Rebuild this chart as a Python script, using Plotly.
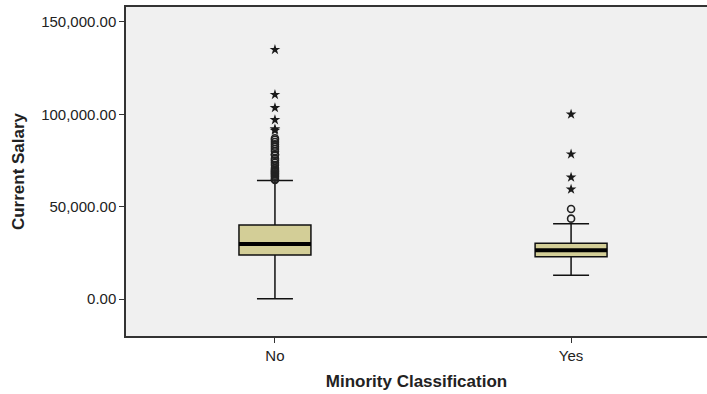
import plotly.graph_objects as go

# Minority Classification boxplot of Current Salary
groups = ["No", "Yes"]
q1 = [23850, 22900]
medians = [29800, 26400]
q3 = [40100, 30150]
lower_whisker = [200, 12850]
upper_whisker = [64100, 40800]

# extreme values (stars) and outliers (circles) per group
no_circles = [64500, 65000, 66000, 66750, 67500, 68125, 68750, 69250, 70000, 70875,
              72500, 73750, 75000, 76000, 78125, 78250, 80000, 81250, 82500, 83750,
              85000, 86250, 87000]
no_stars = [91250, 92000, 97000, 103500, 110625, 135000]
yes_circles = [43500, 48750]
yes_stars = [59400, 65900, 78400, 100000]

box_fill = "#D3CE97"
box_width = 0.243

fig = go.Figure()

for i, g in enumerate(groups):
    fig.add_trace(go.Box(
        x=[i], q1=[q1[i]], median=[medians[i]], q3=[q3[i]],
        lowerfence=[lower_whisker[i]], upperfence=[upper_whisker[i]],
        width=box_width, whiskerwidth=0.5, boxpoints=False,
        fillcolor=box_fill, line=dict(color="#111111", width=1.5),
        showlegend=False, hoverinfo="skip",
    ))
    # thick median bar like SPSS
    fig.add_trace(go.Scatter(
        x=[i - box_width / 2, i + box_width / 2], y=[medians[i], medians[i]],
        mode="lines", line=dict(color="#000000", width=4),
        showlegend=False, hoverinfo="skip",
    ))

circle_x = [0] * len(no_circles) + [1] * len(yes_circles)
fig.add_trace(go.Scatter(
    x=circle_x, y=no_circles + yes_circles, mode="markers",
    marker=dict(symbol="circle-open", size=7, color="#222222", line=dict(width=1.6)),
    showlegend=False,
))
star_x = [0] * len(no_stars) + [1] * len(yes_stars)
fig.add_trace(go.Scatter(
    x=star_x, y=no_stars + yes_stars, mode="markers",
    marker=dict(symbol="star", size=8, color="#1a1a1a", line=dict(width=0)),
    showlegend=False,
))

fig.update_layout(
    width=707, height=394,
    margin=dict(l=126, r=0, t=7, b=58),
    paper_bgcolor="white", plot_bgcolor="#F0F0F0",
    font=dict(family="Liberation Sans, Arial", size=15, color="#222222"),
    xaxis=dict(
        range=[-0.503, 1.459], tickvals=[0, 1], ticktext=groups,
        showgrid=False, zeroline=False,
        showline=True, linecolor="#333333", linewidth=1.5, mirror=True,
        ticks="outside", ticklen=5, tickcolor="#333333",
        title=dict(text="<b>Minority Classification</b>", font=dict(size=17), standoff=12),
    ),
    yaxis=dict(
        range=[-20036, 158100], tickvals=[0, 50000, 100000, 150000],
        tickformat=",.2f", showgrid=False, zeroline=False,
        showline=True, linecolor="#333333", linewidth=1.5,
        ticks="outside", ticklen=5, tickcolor="#333333",
        title=dict(text="<b>Current Salary</b>", font=dict(size=17), standoff=12),
    ),
)

# drop the default 8px page margin so the chart fills the window
fig.write_html("out.html", config={"displayModeBar": False},
               post_script="document.body.style.margin = '0';")
